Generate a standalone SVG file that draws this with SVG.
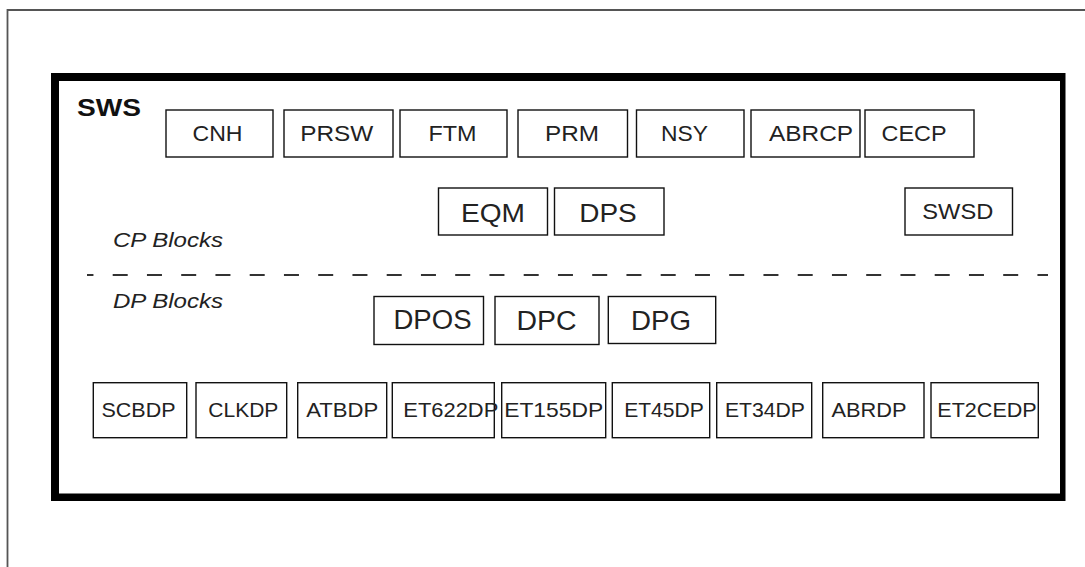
<svg xmlns="http://www.w3.org/2000/svg" width="1085" height="567" viewBox="0 0 1085 567">
<style>
.box{fill:#fff;stroke:#111;stroke-width:1.4}
.t{font-family:"Liberation Sans",Arial,sans-serif;fill:#222;text-anchor:middle}
.s22{font-size:22px}
.s25{font-size:25.5px}
.s27{font-size:27px}
.s21{font-size:21px}
.lab{font-family:"Liberation Sans",Arial,sans-serif;font-style:italic;font-size:20px;fill:#222}
</style>
<rect width="1085" height="567" fill="#fff"/>
<path id="outer-frame" d="M7.5 567 V10 H1085" fill="none" stroke="#555" stroke-width="1.8"/>
<path id="sws-frame" fill="#000" fill-rule="evenodd" d="M51 73 H1065.5 V501 H51 Z M59 81 V493.5 H1060 V81 Z"/>
<text x="77" y="116" font-family="Liberation Sans,Arial,sans-serif" font-weight="bold" font-size="24" fill="#111" textLength="64" lengthAdjust="spacingAndGlyphs">SWS</text>
<g id="divider"><line x1="87" y1="275" x2="1048" y2="275" stroke="#333" stroke-width="2" stroke-dasharray="15 19.25" stroke-dashoffset="8.55"/></g>
<text class="lab" x="113" y="247.3" textLength="110" lengthAdjust="spacingAndGlyphs">CP Blocks</text>
<text class="lab" x="113" y="308.3" textLength="110" lengthAdjust="spacingAndGlyphs">DP Blocks</text>

<g id="CNH"><rect class="box" x="166" y="110" width="107" height="47"/><text class="t s22" x="217.5" y="141" textLength="50" lengthAdjust="spacingAndGlyphs">CNH</text></g>
<g id="PRSW"><rect class="box" x="284" y="110" width="109" height="47"/><text class="t s22" x="336.7" y="141" textLength="73" lengthAdjust="spacingAndGlyphs">PRSW</text></g>
<g id="FTM"><rect class="box" x="400" y="110" width="107" height="47"/><text class="t s22" x="452.5" y="141" textLength="48" lengthAdjust="spacingAndGlyphs">FTM</text></g>
<g id="PRM"><rect class="box" x="518" y="110" width="109.5" height="47"/><text class="t s22" x="572" y="141" textLength="54" lengthAdjust="spacingAndGlyphs">PRM</text></g>
<g id="NSY"><rect class="box" x="636.5" y="110" width="107.5" height="47"/><text class="t s22" x="684.5" y="141" textLength="47" lengthAdjust="spacingAndGlyphs">NSY</text></g>
<g id="ABRCP"><rect class="box" x="751" y="110" width="109" height="47"/><text class="t s22" x="811" y="141" textLength="84" lengthAdjust="spacingAndGlyphs">ABRCP</text></g>
<g id="CECP"><rect class="box" x="865" y="110" width="109" height="47"/><text class="t s22" x="914" y="141" textLength="65" lengthAdjust="spacingAndGlyphs">CECP</text></g>

<g id="EQM"><rect class="box" x="438.5" y="188" width="109" height="47"/><text class="t s25" x="493" y="221.7" textLength="64" lengthAdjust="spacingAndGlyphs">EQM</text></g>
<g id="DPS"><rect class="box" x="554.5" y="188" width="109.5" height="47"/><text class="t s25" x="608" y="221.7" textLength="57.5" lengthAdjust="spacingAndGlyphs">DPS</text></g>
<g id="SWSD"><rect class="box" x="905" y="188" width="107.5" height="47"/><text class="t s22" x="957.8" y="219.3" textLength="71" lengthAdjust="spacingAndGlyphs">SWSD</text></g>

<g id="DPOS"><rect class="box" x="374" y="296.5" width="109.5" height="48"/><text class="t s27" x="432.5" y="329.3" textLength="78" lengthAdjust="spacingAndGlyphs">DPOS</text></g>
<g id="DPC"><rect class="box" x="495" y="296.5" width="104" height="48"/><text class="t s27" x="546.5" y="329.5" textLength="60" lengthAdjust="spacingAndGlyphs">DPC</text></g>
<g id="DPG"><rect class="box" x="608.3" y="296.5" width="107.4" height="47"/><text class="t s27" x="661" y="330" textLength="60" lengthAdjust="spacingAndGlyphs">DPG</text></g>

<g id="SCBDP"><rect class="box" x="93.3" y="382.7" width="93.4" height="55"/><text class="t s21" x="138.5" y="416.7" textLength="74" lengthAdjust="spacingAndGlyphs">SCBDP</text></g>
<g id="CLKDP"><rect class="box" x="196" y="382.7" width="90.7" height="55"/><text class="t s21" x="243.3" y="416.7" textLength="70" lengthAdjust="spacingAndGlyphs">CLKDP</text></g>
<g id="ATBDP"><rect class="box" x="297.7" y="382.7" width="89" height="55"/><text class="t s21" x="342.2" y="416.7" textLength="72" lengthAdjust="spacingAndGlyphs">ATBDP</text></g>
<g id="ET622DP"><rect class="box" x="392.3" y="382.7" width="102" height="55"/><text class="t s21" x="450.8" y="416.7" textLength="95" lengthAdjust="spacingAndGlyphs">ET622DP</text></g>
<g id="ET155DP"><rect class="box" x="501.7" y="382.7" width="104" height="55"/><text class="t s21" x="553.7" y="416.7" textLength="99" lengthAdjust="spacingAndGlyphs">ET155DP</text></g>
<g id="ET45DP"><rect class="box" x="612.3" y="382.7" width="97.4" height="55"/><text class="t s21" x="664" y="416.7" textLength="79.7" lengthAdjust="spacingAndGlyphs">ET45DP</text></g>
<g id="ET34DP"><rect class="box" x="716.7" y="382.7" width="95" height="55"/><text class="t s21" x="765" y="416.7" textLength="80" lengthAdjust="spacingAndGlyphs">ET34DP</text></g>
<g id="ABRDP"><rect class="box" x="822.7" y="382.7" width="101.3" height="55"/><text class="t s21" x="869" y="416.7" textLength="75" lengthAdjust="spacingAndGlyphs">ABRDP</text></g>
<g id="ET2CEDP"><rect class="box" x="931" y="382.7" width="107.3" height="55"/><text class="t s21" x="987" y="416.7" textLength="99.4" lengthAdjust="spacingAndGlyphs">ET2CEDP</text></g>
<g id="connectors"/>
</svg>
